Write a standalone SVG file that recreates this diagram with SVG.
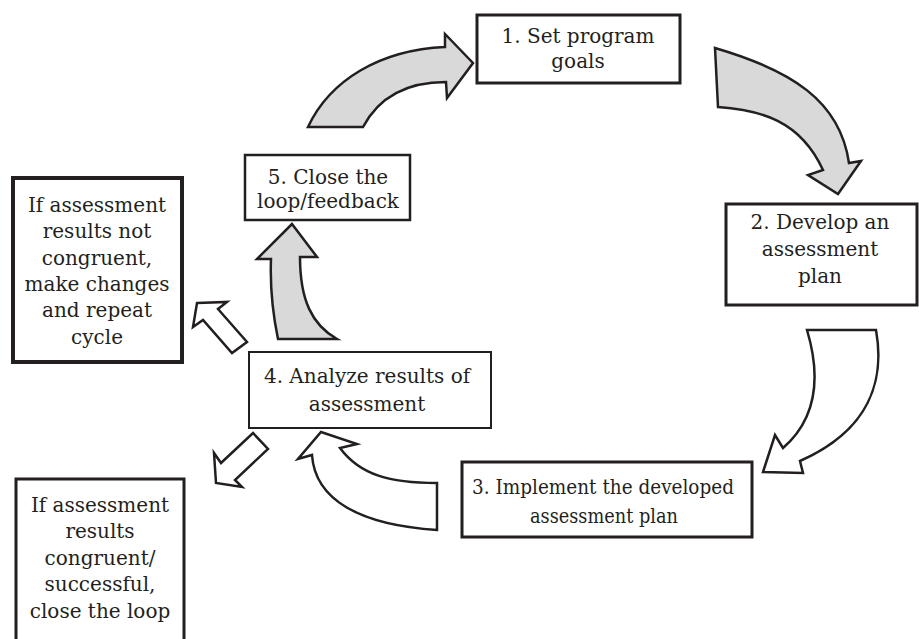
<svg xmlns="http://www.w3.org/2000/svg" width="919" height="639" viewBox="0 0 919 639">
<style>
.box{fill:#fff;stroke:#231f20}
text{font-family:"DejaVu Serif","Liberation Serif",serif;font-size:20px;fill:#231f20;text-anchor:middle}
.g{fill:#d9d9d9;stroke:#231f20;stroke-width:2.5;stroke-linejoin:miter}
.w{fill:#fff;stroke:#231f20;stroke-width:2.5;stroke-linejoin:miter}
</style>
<rect width="919" height="639" fill="#fff"/>
<g id="connectors">
<path class="g" d="M308,127 C330,80 380,50 445,47 L445,34 L473,63 L447,98 L446,82 C410,82 380,95 363,127 Z"/>
<path class="g" d="M715,48 C790,70 840,100 849,163 L861,161 L838,194 L808,175 L823,170 C800,120 760,110 718,107 Z"/>
<path class="w" d="M807,330 L876,330 C885,380 870,430 800,461 L803,473 L763,472 L775,435 L783,448 C815,420 822,380 807,330 Z"/>
<path class="w" d="M437,483 L437,530 C360,525 315,500 312,455 L298,459 L321,432 L357,444 L340,448 C360,475 390,483 437,483 Z"/>
<path class="g" d="M292,224 L317,257 L300,257 C300,300 312,325 337,339 L278,339 C272,310 270,285 271,259 L257,259 Z"/>
<path class="w" d="M197,303 L227,302 L218,309 L247,342 L232,353 L203,320 L193,327 Z"/>
<path class="w" d="M216,483 L214,453 L221,463 L253,433 L268,449 L235,480 L242,487 Z"/>
</g>
<g id="n1">
<rect class="box" x="477" y="15" width="203" height="68" stroke-width="3"/>
<text x="578" y="43">1. Set program</text>
<text x="578" y="68">goals</text>
</g>
<g id="n2">
<rect class="box" x="726" y="204" width="191" height="101" stroke-width="3"/>
<text x="820" y="229">2. Develop an</text>
<text x="820" y="256">assessment</text>
<text x="820" y="283">plan</text>
</g>
<g id="n3">
<rect class="box" x="462" y="462" width="290" height="75" stroke-width="3"/>
<text x="603" y="494" textLength="262" lengthAdjust="spacingAndGlyphs">3. Implement the developed</text>
<text x="604" y="523" textLength="148" lengthAdjust="spacingAndGlyphs">assessment plan</text>
</g>
<g id="n4">
<rect class="box" x="249" y="352" width="242" height="76" stroke-width="2"/>
<text x="367" y="383">4. Analyze results of</text>
<text x="367" y="411">assessment</text>
</g>
<g id="n5">
<rect class="box" x="245" y="155" width="165" height="65" stroke-width="2.5"/>
<text x="328" y="184">5. Close the</text>
<text x="328" y="208">loop/feedback</text>
</g>
<g id="nA">
<rect class="box" x="13" y="178" width="169" height="184" stroke-width="4"/>
<text x="97" y="212">If assessment</text>
<text x="97" y="238">results not</text>
<text x="97" y="265">congruent,</text>
<text x="97" y="291">make changes</text>
<text x="97" y="317">and repeat</text>
<text x="97" y="344">cycle</text>
</g>
<g id="nB">
<rect class="box" x="16" y="479" width="168" height="170" stroke-width="3"/>
<text x="100" y="512">If assessment</text>
<text x="100" y="538">results</text>
<text x="100" y="565">congruent/</text>
<text x="100" y="591">successful,</text>
<text x="100" y="618">close the loop</text>
</g>
</svg>
